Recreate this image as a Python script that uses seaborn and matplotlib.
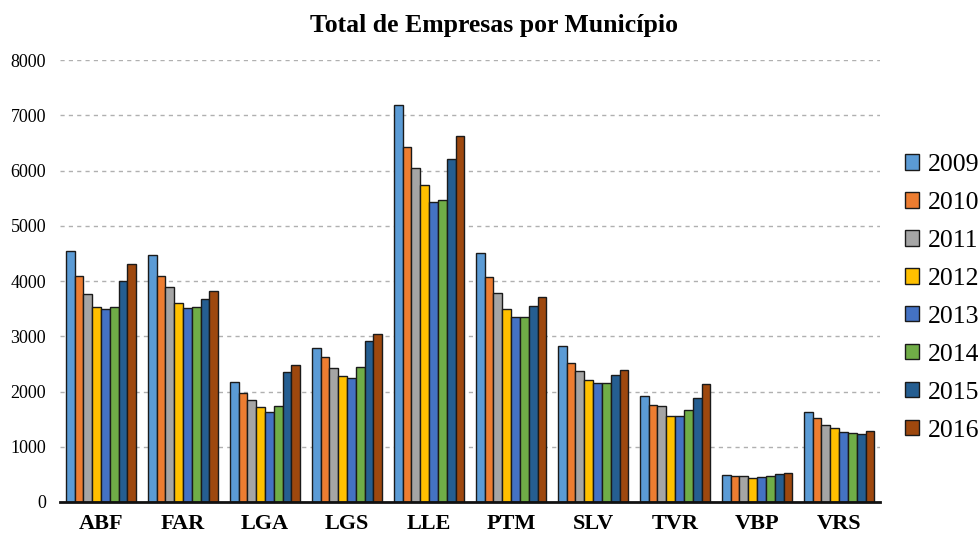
import matplotlib
matplotlib.use("Agg")
import matplotlib.pyplot as plt
import seaborn as sns
import pandas as pd

municipios = ["ABF", "FAR", "LGA", "LGS", "LLE", "PTM", "SLV", "TVR", "VBP", "VRS"]
anos = ["2009", "2010", "2011", "2012", "2013", "2014", "2015", "2016"]

empresas_2009 = [4550, 4465, 2175, 2785, 7195, 4510, 2820, 1920, 490, 1625]
empresas_2010 = [4090, 4100, 1970, 2620, 6430, 4080, 2510, 1755, 478, 1518]
empresas_2011 = [3760, 3885, 1840, 2420, 6055, 3785, 2365, 1730, 476, 1392]
empresas_2012 = [3535, 3600, 1715, 2285, 5745, 3495, 2205, 1560, 430, 1337]
empresas_2013 = [3500, 3505, 1630, 2240, 5430, 3355, 2157, 1548, 452, 1265]
empresas_2014 = [3525, 3535, 1730, 2440, 5470, 3355, 2163, 1663, 464, 1247]
empresas_2015 = [3995, 3675, 2350, 2910, 6210, 3555, 2295, 1880, 506, 1229]
empresas_2016 = [4315, 3815, 2480, 3035, 6620, 3705, 2385, 2133, 530, 1283]

cores = ["#5B9BD5", "#ED7D31", "#A5A5A5", "#FFC000",
         "#4472C4", "#70AD47", "#255E91", "#9E480E"]

series = [empresas_2009, empresas_2010, empresas_2011, empresas_2012,
          empresas_2013, empresas_2014, empresas_2015, empresas_2016]
df = pd.DataFrame({
    "Município": municipios * len(anos),
    "Ano": [a for a in anos for _ in municipios],
    "Empresas": [v for s in series for v in s],
})

sns.set_theme(style="white")
plt.rcParams["font.family"] = ["Liberation Serif", "DejaVu Serif"]
plt.rcParams["text.color"] = "black"
plt.rcParams["xtick.color"] = "black"
plt.rcParams["ytick.color"] = "black"

fig = plt.figure(figsize=(9.79, 5.37), dpi=100)
ax = fig.add_axes([0.0613, 0.0652, 0.8377, 0.8228])

sns.barplot(data=df, x="Município", y="Empresas", hue="Ano",
            palette=cores, saturation=1, width=0.86, gap=0,
            edgecolor="#1a1a1a", linewidth=1.0, ax=ax, zorder=3)

ax.set_ylim(0, 8000)
ax.set_xlim(-0.5, len(municipios) - 0.5)
ax.set_yticks(range(0, 8001, 1000))
ax.yaxis.grid(True, linestyle=(0, (3, 3)), color="#b0b0b0", linewidth=1.0, zorder=0)
ax.xaxis.grid(False)
for side in ["left", "right", "top"]:
    ax.spines[side].set_visible(False)
ax.spines["bottom"].set_color("#111111")
ax.spines["bottom"].set_linewidth(2.0)
ax.spines["bottom"].set_zorder(4)
ax.tick_params(axis="y", length=0, labelsize=13, pad=10)
ax.tick_params(axis="x", length=0, labelsize=16, pad=9)
for lbl in ax.get_xticklabels():
    lbl.set_fontweight("bold")
ax.set_xlabel("")
ax.set_ylabel("")

fig.suptitle("Total de Empresas por Município", x=0.505, y=0.973,
             fontsize=18.5, fontweight="bold", color="black")

handles, labels = ax.get_legend_handles_labels()
ax.legend(handles, labels, loc="center left", bbox_to_anchor=(1.0, 0.462),
          frameon=False, fontsize=18.5, handlelength=0.55, handleheight=0.55,
          handletextpad=0.35, labelspacing=0.62, borderaxespad=0.55)

fig.savefig("out.png", dpi=100)
